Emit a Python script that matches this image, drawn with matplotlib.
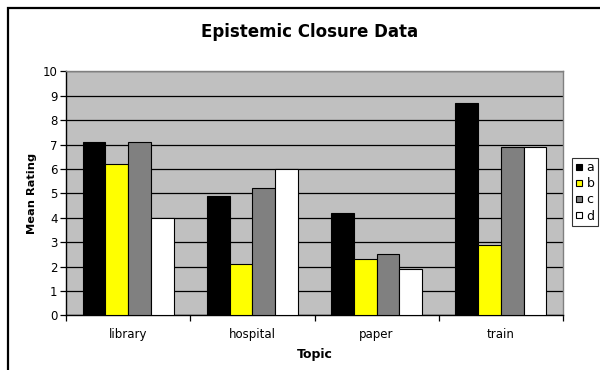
import numpy as np
import matplotlib
matplotlib.use("Agg")
import matplotlib.pyplot as plt
from matplotlib.patches import Rectangle
from matplotlib.lines import Line2D

topics = ["library", "hospital", "paper", "train"]
series = ["a", "b", "c", "d"]
a_vals = [7.1, 4.9, 4.2, 8.7]
b_vals = [6.2, 2.1, 2.3, 2.9]
c_vals = [7.1, 5.2, 2.5, 6.9]
d_vals = [4.0, 6.0, 1.9, 6.9]
colors = ["#000000", "#FFFF00", "#808080", "#FFFFFF"]

plt.rcParams["font.family"] = ["DejaVu Sans"]

W, H = 600, 370
fig = plt.figure(figsize=(W / 100, H / 100), dpi=100)

# outer chart frame (runs off the right and bottom edge)
fig.patches.append(Rectangle((8 / W, -0.2), 1.2, (H - 8) / H + 0.2,
                             transform=fig.transFigure, fill=False,
                             edgecolor="black", linewidth=1.6))

ax = fig.add_axes([66 / W, (H - 315.3) / H, 497 / W, 244 / H])
ax.set_facecolor("#C0C0C0")

x = np.arange(len(topics))
w = 0.183
for i, (vals, col, name) in enumerate(zip([a_vals, b_vals, c_vals, d_vals], colors, series)):
    ax.bar(x + (i - 1.5) * w, vals, width=w, color=col, edgecolor="black",
           linewidth=0.8, label=name, zorder=3)

ax.set_xlim(-0.5, 3.5)
ax.set_ylim(0, 10)
ax.set_yticks(range(0, 11))
ax.yaxis.grid(True, color="black", linewidth=0.9, zorder=1)
ax.set_axisbelow(True)

ax.set_xticks(x)
ax.set_xticklabels(topics, fontsize=8.5)
ax.set_xticks(np.arange(-0.5, 4, 1), minor=True)
ax.tick_params(axis="x", which="major", length=0, pad=9)
ax.tick_params(axis="x", which="minor", length=4, direction="out", width=0.9)
ax.tick_params(axis="y", length=4, width=0.9, labelsize=8.5, pad=2)

for side in ["top", "right"]:
    ax.spines[side].set_color("#808080")
    ax.spines[side].set_linewidth(1.0)
for side in ["left", "bottom"]:
    ax.spines[side].set_color("black")
    ax.spines[side].set_linewidth(1.0)

ax.set_ylabel("Mean Rating", fontsize=8.2, fontweight="bold", labelpad=4)
ax.set_xlabel("Topic", fontsize=9, fontweight="bold", labelpad=5)

fig.text(310 / W, 1 - 32 / H, "Epistemic Closure Data", ha="center", va="center",
         fontsize=12, fontweight="bold")

handles = [Line2D([0], [0], marker="s", linestyle="none", markerfacecolor=c,
                  markeredgecolor="black", markersize=4.5, markeredgewidth=0.8)
           for c in colors]
leg = fig.legend(handles, series, loc="upper left",
                 bbox_to_anchor=(572 / W, 1 - 158 / H), fontsize=9,
                 frameon=True, fancybox=False, edgecolor="black",
                 handlelength=0.6, handletextpad=0.3, borderpad=0.25,
                 labelspacing=0.25, borderaxespad=0)
leg.get_frame().set_linewidth(0.8)

fig.savefig("out.png", dpi=100)
